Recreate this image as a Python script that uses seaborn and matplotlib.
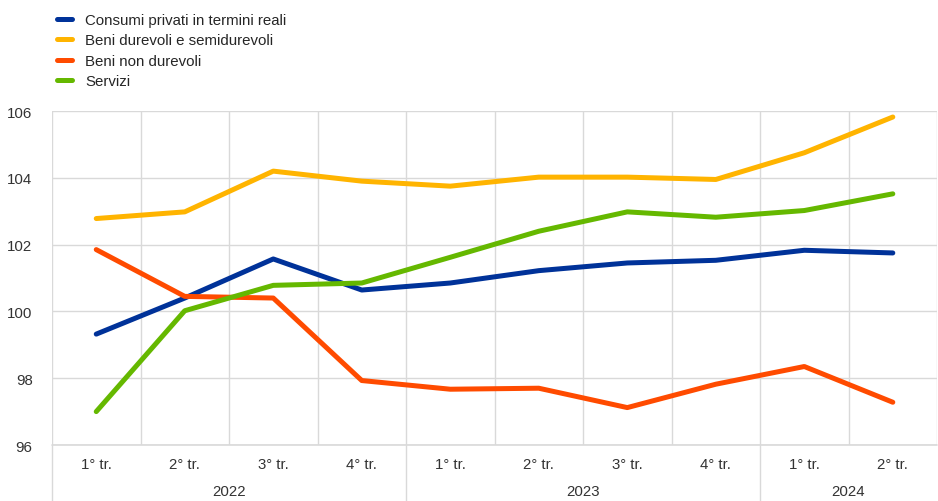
import numpy as np
import pandas as pd
import matplotlib
matplotlib.use("Agg")
import matplotlib.pyplot as plt
import matplotlib.transforms as mtransforms
import seaborn as sns

# data
quarters = ["1° tr.", "2° tr.", "3° tr.", "4° tr.", "1° tr.", "2° tr.", "3° tr.", "4° tr.", "1° tr.", "2° tr."]
years = ["2022", "2023", "2024"]
year_len = [4, 4, 2]

consumi = [99.32, 100.40, 101.57, 100.64, 100.85, 101.22, 101.45, 101.53, 101.83, 101.75]
durevoli = [102.78, 102.98, 104.20, 103.90, 103.75, 104.02, 104.02, 103.95, 104.75, 105.82]
non_durevoli = [101.85, 100.45, 100.40, 97.93, 97.67, 97.70, 97.12, 97.82, 98.35, 97.28]
servizi = [97.00, 100.02, 100.78, 100.85, 101.62, 102.40, 102.98, 102.82, 103.02, 103.52]

labels = ["Consumi privati in termini reali", "Beni durevoli e semidurevoli",
          "Beni non durevoli", "Servizi"]
colors = ["#003299", "#FFB400", "#FF4B00", "#65B800"]

sns.set_style("white")
plt.rcParams['font.family'] = ['Liberation Sans', 'DejaVu Sans']

x = np.arange(len(quarters))
df = pd.DataFrame({"x": np.tile(x, 4),
                   "val": consumi + durevoli + non_durevoli + servizi,
                   "serie": np.repeat(labels, len(quarters))})

fig = plt.figure(figsize=(9.38, 5.02), dpi=100)
ax = fig.add_axes([52 / 938, 1 - 446 / 502, 1 - 52 / 938 - 0.001, 334 / 502])

sns.lineplot(data=df, x="x", y="val", hue="serie", hue_order=labels,
             palette=colors, linewidth=3.6, ax=ax, legend=False)

ax.set_xlim(-0.5, len(quarters) - 0.5)
ax.set_ylim(96, 106)
ax.set_yticks([96, 98, 100, 102, 104, 106])
ax.set_xticks(x)
ax.set_xticklabels(quarters)
ax.set_xticks(np.arange(-0.5, len(quarters)), minor=True)
ax.tick_params(axis="both", which="both", length=0, labelsize=10.8, colors="#333333")
ax.tick_params(axis="x", pad=9)
ax.tick_params(axis="y", pad=14)
ax.set_xlabel("")
ax.set_ylabel("")
ax.grid(True, which="major", axis="y", color="#d9d9d9", linewidth=1)
ax.grid(True, which="minor", axis="x", color="#d9d9d9", linewidth=1)
ax.axhline(96, color="#d9d9d9", linewidth=1.2, clip_on=False, zorder=0.5)
for s in ax.spines.values():
    s.set_visible(False)

# year separators and labels below the axis
trans = mtransforms.blended_transform_factory(ax.transData, ax.transAxes)
start = 0
for yr, n in zip(years, year_len):
    ax.plot([start - 0.5, start - 0.5], [0, -0.17], transform=trans, color="#d9d9d9",
            linewidth=1, clip_on=False)
    ax.text(start + (n - 1) / 2, -0.138, yr, transform=trans, ha="center", va="center",
            fontsize=10.8, color="#333333")
    start += n

handles = [plt.Line2D([], [], color=c, linewidth=3.6) for c in colors]
fig.legend(handles, labels, loc="upper left", bbox_to_anchor=(0.05, 0.993), frameon=False,
           fontsize=10.8, handlelength=1.0, handletextpad=0.85, labelspacing=0.43,
           borderaxespad=0.3)

fig.savefig("out.png", dpi=100)
